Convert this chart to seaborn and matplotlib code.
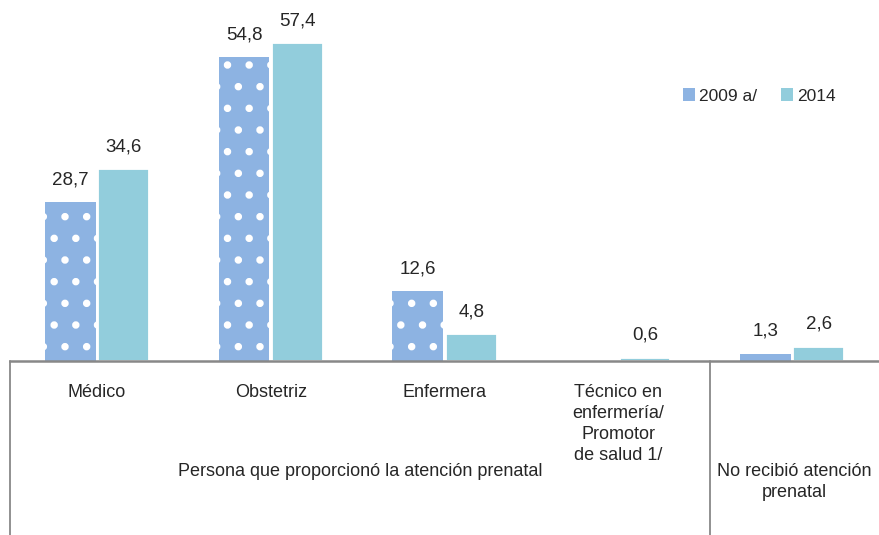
import numpy as np
import pandas as pd
import matplotlib
matplotlib.use("Agg")
import matplotlib.pyplot as plt
import seaborn as sns
from matplotlib.lines import Line2D
from matplotlib.patches import Patch

categories = ["Médico", "Obstetriz", "Enfermera",
              "Técnico en\nenfermería/\nPromotor\nde salud 1/", "No recibió"]
vals_2009 = [28.7, 54.8, 12.6, np.nan, 1.3]
vals_2014 = [34.6, 57.4, 4.8, 0.6, 2.6]
series = ["2009 a/", "2014"]
colors = ["#8DB3E2", "#92CDDC"]

df = pd.DataFrame({
    "cat": categories * 2,
    "serie": [series[0]] * 5 + [series[1]] * 5,
    "valor": vals_2009 + vals_2014,
})

# larger dpi so the hatch grid is as sparse as in the original
DPI = 130
k = 100 / DPI  # points scale so text keeps its pixel size

sns.set_style("white")
plt.rcParams["font.family"] = ["Liberation Sans", "DejaVu Sans"]
plt.rcParams["hatch.linewidth"] = 1.7

W, H = 879, 535
fig = plt.figure(figsize=(W / DPI, H / DPI), dpi=DPI)
base = 361
ax = fig.add_axes([10 / W, (H - base) / H, 1 - 10 / W, base / H])

sns.barplot(data=df, x="cat", y="valor", hue="serie", palette=colors,
            width=0.615, gap=0.047, ax=ax, legend=False, saturation=1)

for bar in ax.containers[0]:
    bar.set_hatch(".")
    bar.set_edgecolor("white")
    bar.set_linewidth(0)

for cont in ax.containers:
    labels = []
    for b in cont:
        h = b.get_height()
        labels.append("" if np.isnan(h) else f"{h:.1f}".replace(".", ","))
    ax.bar_label(cont, labels=labels, padding=10 * k, fontsize=13.5 * k)

ax.set_ylim(0, base / 5.54)
ax.set_xlim(-0.5, 4.5)
ax.set_xlabel("")
ax.set_ylabel("")
ax.set_yticks([])
ax.set_xticks([])
for s in ["top", "right", "left"]:
    ax.spines[s].set_visible(False)
ax.spines["bottom"].set_color("#888888")
ax.spines["bottom"].set_linewidth(1.8 * k)

# category labels
for i, c in enumerate(categories[:4]):
    ax.text(i, -0.065, c, transform=ax.get_xaxis_transform(), ha="center",
            va="top", fontsize=13 * k, linespacing=1.3)

# separators below the axis
for x in [10, 710]:
    fig.add_artist(Line2D([x / W, x / W], [0, (H - base) / H],
                          color="#888888", lw=1.3 * k))

fig.text(360 / W, 1 - 471 / H, "Persona que proporcionó la atención prenatal",
         ha="center", va="center", fontsize=13 * k)
fig.text(794 / W, 1 - 482 / H, "No recibió atención\nprenatal",
         ha="center", va="center", fontsize=13 * k, linespacing=1.3)

handles = [Patch(facecolor=colors[0], edgecolor="white", linewidth=0),
           Patch(facecolor=colors[1], linewidth=0)]
fig.legend(handles, series, loc="center left", bbox_to_anchor=(674 / W, 1 - 96 / H),
           ncol=2, frameon=False, fontsize=12.5 * k, handlelength=0.7, handleheight=0.7,
           handletextpad=0.25, columnspacing=1.35, borderpad=0)

fig.savefig("out.png", dpi=DPI)
